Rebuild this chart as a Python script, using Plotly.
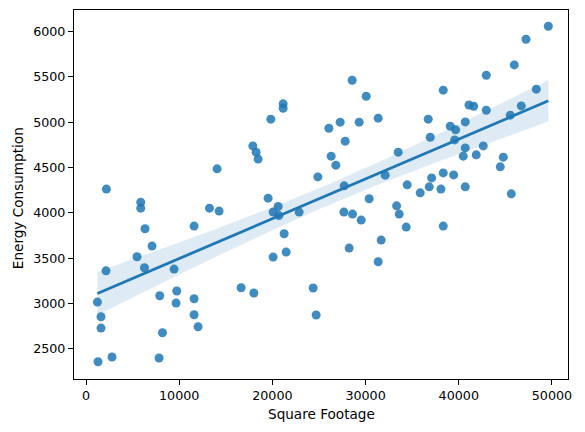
import numpy as np
import plotly.graph_objects as go

# values
square_footage = [
    2190, 5873, 5873, 6335, 7086, 5476, 6270, 2147, 1224, 1611,
    1611, 1288, 2792, 7838, 8203, 7913, 9738, 9663, 9449, 11596,
    13250, 14280, 14065, 11596, 11596, 12025, 16642, 18006, 28560, 30064,
    21152, 21152, 19831, 26059, 27272, 29312, 31352, 27809, 17899, 18253,
    18468, 26306, 26810, 24877, 33499, 32104, 27701, 19541, 20615, 20078,
    20690, 22870, 30386, 33328, 33607, 27669, 28603, 29527, 21259, 21474,
    20078, 28238, 31674, 31352, 24373, 24695, 49605, 47211, 45954, 42948,
    38331, 48317, 41091, 41595, 42948, 46706, 45525, 36721, 40693, 39083,
    39663, 36935, 39555, 40693, 42626, 40478, 41874, 44773, 44451, 38331,
    39448, 37086, 34466, 36828, 38084, 40693, 35861, 45632, 34358, 38331,
]
energy_consumption = [
    4262, 4118, 4052, 3824, 3633, 3515, 3394, 3360, 3015, 2853,
    2728, 2357, 2409, 2398, 2677, 3085, 3137, 3004, 3379, 3854,
    4052, 4019, 4486, 3052, 2875, 2743, 3173, 3115, 5464, 5287,
    5203, 5155, 5034, 4934, 5001, 5001, 5045, 4791, 4739, 4670,
    4593, 4626, 4526, 4397, 4670, 4416, 4298, 4162, 4070, 4008,
    3970, 4008, 4155, 4077, 3986, 4008, 3986, 3920, 3769, 3567,
    3512, 3611, 3699, 3460, 3170, 2872, 6060, 5916, 5633, 5519,
    5354, 5365, 5191, 5177, 5133, 5180, 5078, 5034, 5004, 4957,
    4916, 4835, 4805, 4717, 4739, 4626, 4640, 4615, 4508, 4441,
    4419, 4386, 4309, 4287, 4262, 4287, 4221, 4210, 3843, 3854,
]

azul = "#1f77b4"
fonte = dict(family="DejaVu Sans", size=12.7, color="black")
fonte_titulo = dict(family="DejaVu Sans", size=13.6, color="black")

# ajuste linear e banda de confiança de 95%
x = np.array(square_footage, dtype=float)
y = np.array(energy_consumption, dtype=float)
n = len(x)
slope, intercept = np.polyfit(x, y, 1)
x_fit = np.linspace(x.min(), x.max(), 100)
y_fit = slope * x_fit + intercept
resid = y - (slope * x + intercept)
s = np.sqrt(np.sum(resid ** 2) / (n - 2))
sxx = np.sum((x - x.mean()) ** 2)
se = s * np.sqrt(1 / n + (x_fit - x.mean()) ** 2 / sxx)
upper = y_fit + 1.984 * se
lower = y_fit - 1.984 * se

fig = go.Figure()
fig.add_trace(go.Scatter(
    x=x, y=y, mode="markers",
    marker=dict(color=azul, size=9, opacity=0.85, line=dict(width=0)),
    showlegend=False, hoverinfo="skip",
))
fig.add_trace(go.Scatter(
    x=np.concatenate([x_fit, x_fit[::-1]]),
    y=np.concatenate([upper, lower[::-1]]),
    fill="toself", fillcolor="rgba(31,119,180,0.15)",
    line=dict(width=0), mode="lines", showlegend=False, hoverinfo="skip",
))
fig.add_trace(go.Scatter(
    x=x_fit, y=y_fit, mode="lines",
    line=dict(color=azul, width=2.8), showlegend=False,
))

eixo = dict(
    showline=True, linecolor="black", linewidth=1, mirror=True,
    ticks="outside", ticklen=5, tickwidth=1, tickcolor="black",
    showgrid=False, zeroline=False, tickfont=fonte, tickformat="d",
    automargin=False,
)
fig.update_layout(
    width=585, height=432,
    margin=dict(l=74, r=17, t=10, b=53),
    paper_bgcolor="white", plot_bgcolor="white",
    font=fonte,
    xaxis=dict(eixo, range=[-1288, 51718], dtick=10000, tick0=0),
    yaxis=dict(eixo, range=[2166, 6239], dtick=500, tick0=0),
    annotations=[
        dict(text="Square Footage", xref="paper", yref="paper", x=0.5, y=0,
             xanchor="center", yanchor="top", yshift=-25, showarrow=False,
             font=fonte_titulo),
        dict(text="Energy Consumption", xref="paper", yref="paper", x=0, y=0.49,
             xanchor="center", yanchor="middle", xshift=-56, textangle=-90,
             showarrow=False, font=fonte_titulo),
    ],
)

# tira a margem padrão do body para a figura começar no canto da janela
fig.write_html("out.html", config={"displayModeBar": False},
               post_script="document.body.style.margin='0';")
